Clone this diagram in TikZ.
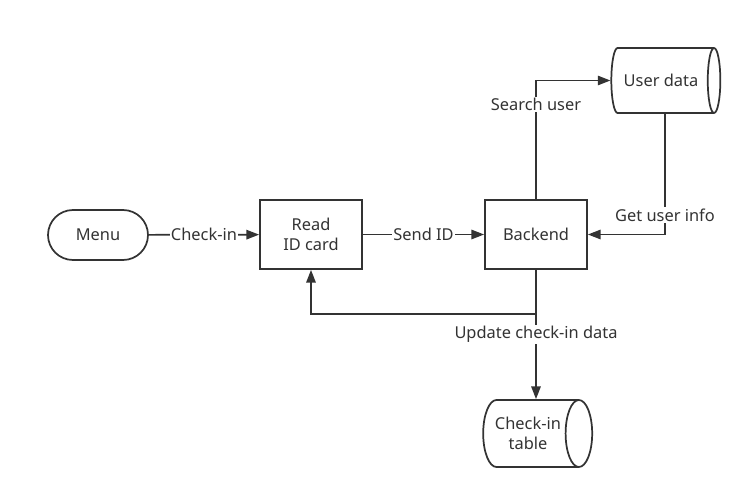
\documentclass[tikz,border=0pt]{standalone}
\usepackage{fontspec}
\setmainfont{Noto Sans}
\usetikzlibrary{arrows.meta}
\usetikzlibrary{shapes.geometric}
\definecolor{ink}{HTML}{333333}

\begin{document}
\begin{tikzpicture}[x=0.75pt,y=-0.75pt]
        \tikzset{
          every node/.style={font=\fontsize{12.3}{15}\selectfont, text=ink},
          box/.style={draw=ink, line width=1.3pt, minimum width=76.5pt, minimum height=51.75pt, align=center, inner sep=2pt},
          term/.style={draw=ink, line width=1.3pt, rounded corners=18.75pt, minimum width=75pt, minimum height=37.5pt},
          db/.style={cylinder, draw=ink, line width=1.3pt, aspect=0.7, minimum height=81.75pt, minimum width=48.75pt, align=center, inner sep=2pt},
          flow/.style={draw=ink, line width=1.3pt, -{Triangle[length=9.5pt, width=7pt]}},
          lbl/.style={fill=white, inner sep=1pt}
        }
        \useasboundingbox (0,0) rectangle (752,499);

        % — nodes —
        \node[term] (menu) at (98,235) {Menu};
        \node[box] (read) at (311,234.5) {Read\\ID card};
        \node[box] (backend) at (536,234.5) {Backend};
        \node[db] (userdata) at (661,80.5) {User data};
        \node[db, minimum width=50.25pt] (checkin) at (528,433.5) {Check-in\\table};
        \coordinate (userout) at (665,113);
        \coordinate (split) at (536,314);

        % — connectors —
        \draw[flow] (menu) -- node[lbl] {Check-in} (read);
        \draw[flow] (read) -- node[lbl] {Send ID} (backend);
        \draw[flow] (backend.north) |- node[lbl, pos=0.4] {Search user} (userdata.west);
        \draw[flow] (userout) |- node[lbl, pos=0.42] {Get user info} (backend.east);
        \draw[flow] (backend.south) -- node[lbl] {Update check-in data} (backend.south |- checkin.north);
        \draw[flow] (split) -| (read.south);
\end{tikzpicture}
\end{document}
